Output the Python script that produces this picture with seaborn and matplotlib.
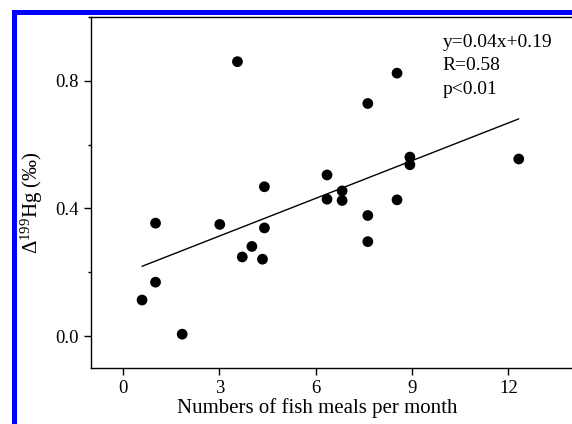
import matplotlib
matplotlib.use("Agg")
import matplotlib.pyplot as plt
from matplotlib.patches import Rectangle
from matplotlib.ticker import FixedLocator
import seaborn as sns
import pandas as pd

fish_meals = [0.59, 1.01, 1.01, 1.84, 3.01, 3.56, 3.71, 4.01, 4.34, 4.40, 4.40,
              6.35, 6.35, 6.82, 6.82, 7.62, 7.62, 7.62, 8.53, 8.53, 8.93, 8.93, 12.32]
d199hg = [0.113, 0.354, 0.169, 0.006, 0.350, 0.860, 0.248, 0.281, 0.241, 0.468, 0.339,
          0.505, 0.429, 0.455, 0.425, 0.729, 0.378, 0.296, 0.824, 0.427, 0.561, 0.537, 0.555]
x_ticks = [0, 3, 6, 9, 12]
y_ticks = [0.0, 0.4, 0.8]
y_minor = [0.2, 0.6, 1.0]
stats_text = ["y=0.04x+0.19", "R=0.58", "p<0.01"]

df = pd.DataFrame({"meals": fish_meals, "d199": d199hg})

sns.set_theme(style="ticks")
plt.rcParams["font.family"] = ["Liberation Serif", "DejaVu Serif"]
plt.rcParams["mathtext.fontset"] = "custom"
plt.rcParams["mathtext.rm"] = "Liberation Serif"
plt.rcParams["mathtext.default"] = "regular"

W, H = 572, 424
fig = plt.figure(figsize=(W / 100, H / 100), dpi=100)
ax = fig.add_axes([91 / W, (H - 368) / H, (600 - 91) / W, 351 / H])

sns.regplot(data=df, x="meals", y="d199", ax=ax, ci=None,
            scatter_kws=dict(s=60, color="black", edgecolor="none", alpha=1),
            line_kws=dict(color="black", linewidth=1.0))

ax.set_xlim(-1.0, 14.85)
ax.set_ylim(-0.1, 1.0)
ax.set_xticks(x_ticks)
ax.set_yticks(y_ticks)
ax.set_yticklabels([f"{v:.1f}" for v in y_ticks])
ax.yaxis.set_minor_locator(FixedLocator(y_minor))
ax.tick_params(axis="both", which="major", direction="out", length=5, width=1,
               labelsize=13.5, color="black", labelcolor="black")
ax.tick_params(axis="y", which="minor", direction="out", length=2.5, width=1, color="black")

for side in ["left", "bottom", "top"]:
    ax.spines[side].set_visible(True)
    ax.spines[side].set_color("black")
    ax.spines[side].set_linewidth(1.0)
ax.spines["right"].set_visible(False)

ax.set_xlabel("Numbers of fish meals per month", fontsize=15, color="black")
ax.xaxis.set_label_coords((317 - 91) / (600 - 91), -0.085)
ax.set_ylabel("Δ$^{199}$Hg (‰)", fontsize=15, color="black")
ax.yaxis.set_label_coords(-0.09, 0.47)

ax.text(9.95, 0.948, "\n".join(stats_text), fontsize=14, va="top", ha="left",
        linespacing=1.5, color="black")

# blue frame (top and left)
fig.patches.append(Rectangle((12 / W, 0), 4.7 / W, (H - 10) / H, transform=fig.transFigure,
                             facecolor="#0000ff", edgecolor="none", zorder=10))
fig.patches.append(Rectangle((12 / W, (H - 15) / H), 1 - 12 / W, 5 / H, transform=fig.transFigure,
                             facecolor="#0000ff", edgecolor="none", zorder=10))

fig.savefig("out.png", dpi=100)
